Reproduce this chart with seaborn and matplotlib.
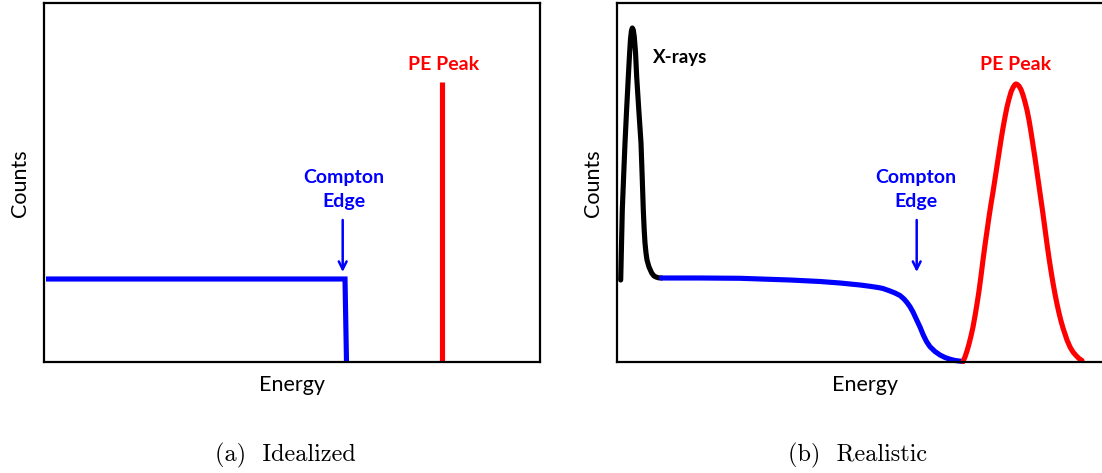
import matplotlib
matplotlib.use("Agg")
import matplotlib.pyplot as plt
import seaborn as sns
import pandas as pd

# ---------------- data (arbitrary channel / count units) ----------------
# (a) Idealized
ideal_compton_x = [2, 301, 302.5]
ideal_compton_y = [83, 83, 0]
ideal_pe_x = [397.7, 397.7]
ideal_pe_y = [0.5, 280]

# (b) Realistic
xray_x = [3.7, 4.5, 5.3, 6.6, 8.0, 9.6, 11.3, 12.5, 13.5, 14.4, 15.3, 16.3, 17.3, 18.5, 19.7,
          21.8, 24.0, 25.2, 26.3, 27.2, 28.0, 29.0, 30.0, 32.0, 34.7, 37.0, 39.0, 41.5, 44.5]
xray_y = [82, 117, 152, 185, 219, 252, 285, 307, 323, 331, 334, 332, 325, 310, 285,
          252, 219, 185, 152, 132, 119, 109, 102, 95, 89, 86, 85, 84.2, 84]

compton_x = [44.5, 83, 123, 173, 203, 223, 233, 243, 253, 261, 266, 273, 278, 283, 287,
             290, 293, 296, 299.7, 303, 306.3, 309.5, 313, 318, 323, 328, 333, 338, 346]
compton_y = [84, 84, 83.7, 82, 80.5, 79, 78, 77, 75.7, 74.5, 73.5, 71, 69, 66.5, 63,
             59.5, 55.3, 50, 42, 35, 27, 20.5, 15.3, 10.5, 7, 4.5, 2.8, 1.5, 0.5]

pe_x = [346, 348, 350, 352, 354, 356, 358, 360, 362, 364, 366, 368, 370, 372, 374, 376, 378,
        380, 382, 384, 386, 388, 390, 392, 394, 396, 398, 399, 400, 402, 404, 406, 408, 410,
        412, 414, 416, 418, 420, 422, 424, 426, 428, 430, 432, 434, 436, 438, 440, 442, 444,
        446, 448, 450, 453, 456, 459, 462, 465]
pe_y = [0.5, 5, 11, 18, 26, 35, 46, 58, 71, 86, 102, 117, 131, 145, 158, 170, 183,
        196, 209, 222, 234, 245, 255, 263, 270, 274.5, 277.5, 278, 277.7, 276, 272.5, 267, 260, 252,
        242, 230, 217, 204, 190, 176, 162, 148, 133, 118, 104, 91, 79, 68, 58, 49, 41,
        34, 28, 22, 15, 10, 6.5, 3.5, 1.5]

captions = ["(a)  Idealized", "(b)  Realistic"]
x_label = "Energy"
y_label = "Counts"

# ---------------- style ----------------
sns.set_theme(style="white")
plt.rcParams["font.family"] = ["Lato", "DejaVu Sans"]

BLUE = "#0000FF"
RED = "#FF0000"
BLACK = "#000000"
LW = 3.7
XMAX, YMAX = 496, 358.5

W, H = 1102, 473
fig = plt.figure(figsize=(W / 100, H / 100), dpi=100)
fig.patch.set_facecolor("white")

ax_b = 473 - 362
ax1 = fig.add_axes([44 / W, ax_b / H, XMAX / W, YMAX / H])
ax2 = fig.add_axes([617 / W, ax_b / H, XMAX / W, YMAX / H])


def line(ax, xs, ys, color, cap="butt", join="miter"):
    df = pd.DataFrame({"x": xs, "y": ys})
    sns.lineplot(data=df, x="x", y="y", ax=ax, sort=False, estimator=None,
                 color=color, linewidth=LW, solid_capstyle=cap,
                 solid_joinstyle=join, clip_on=False)


# ----- (a) Idealized -----
line(ax1, ideal_compton_x, ideal_compton_y, BLUE)
line(ax1, ideal_pe_x, ideal_pe_y, RED)
ax1.text(400, 298, "PE Peak", color=RED, fontsize=14, fontweight="bold",
         ha="center", va="center")
ax1.text(300, 172.5, "Compton\nEdge", color=BLUE, fontsize=14, fontweight="bold",
         ha="center", va="center", linespacing=1.45)
ax1.annotate("", xy=(298.7, 90), xytext=(298.7, 142),
             arrowprops=dict(arrowstyle="->", color=BLUE, lw=1.8,
                             mutation_scale=14, shrinkA=0, shrinkB=0))

# ----- (b) Realistic -----
line(ax2, xray_x, xray_y, BLACK, cap="round", join="round")
line(ax2, compton_x, compton_y, BLUE, cap="round", join="round")
line(ax2, pe_x, pe_y, RED, cap="round", join="round")
ax2.text(36.3, 305, "X-rays", color=BLACK, fontsize=13.5, fontweight="bold",
         ha="left", va="center")
ax2.text(399, 298, "PE Peak", color=RED, fontsize=14, fontweight="bold",
         ha="center", va="center")
ax2.text(299, 172.5, "Compton\nEdge", color=BLUE, fontsize=14, fontweight="bold",
         ha="center", va="center", linespacing=1.45)
ax2.annotate("", xy=(299.7, 90), xytext=(299.7, 142),
             arrowprops=dict(arrowstyle="->", color=BLUE, lw=1.8,
                             mutation_scale=14, shrinkA=0, shrinkB=0))

for ax in (ax1, ax2):
    ax.set_xlim(0, XMAX)
    ax.set_ylim(0, YMAX)
    ax.set_xticks([])
    ax.set_yticks([])
    for sp in ax.spines.values():
        sp.set_color("black")
        sp.set_linewidth(1.6)
        sp.set_visible(True)
    ax.set_xlabel(x_label, fontsize=15.5, labelpad=9, color="black")
    ax.set_ylabel(y_label, fontsize=15.5, labelpad=10, color="black")

# ----- captions -----
fig.text(285 / W, 1 - 455 / H, captions[0], fontsize=17.5, family="cmr10",
         ha="center", va="center", color="black")
fig.text(858 / W, 1 - 455 / H, captions[1], fontsize=17.5, family="cmr10",
         ha="center", va="center", color="black")

fig.savefig("out.png", dpi=100, facecolor="white")
